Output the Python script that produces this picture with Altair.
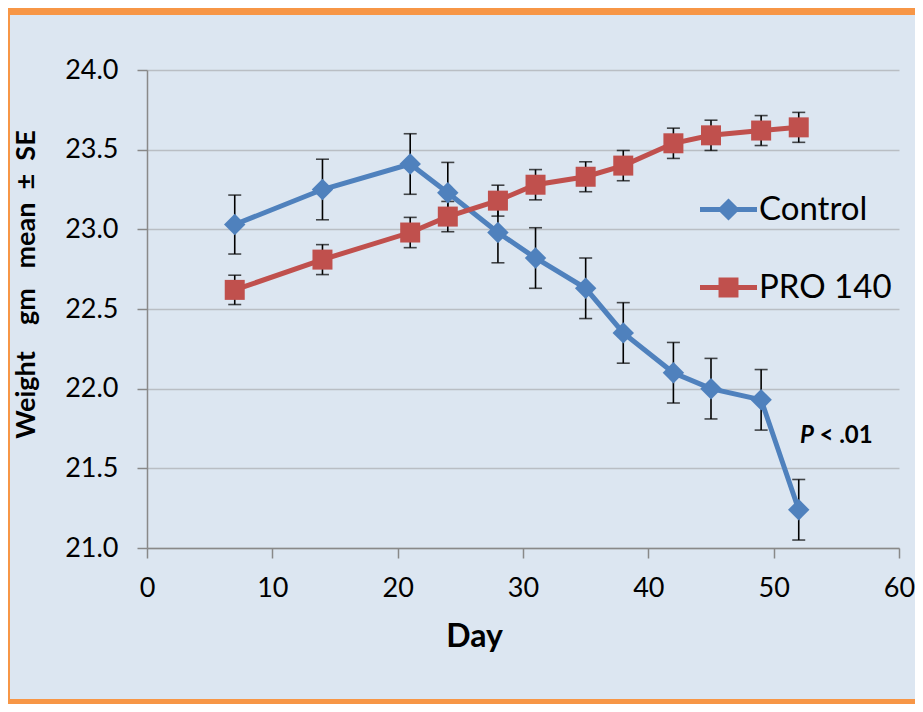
import altair as alt
import pandas as pd

# ---- data ----
days = [7, 14, 21, 24, 28, 31, 35, 38, 42, 45, 49, 52]
control_mean = [23.03, 23.25, 23.41, 23.23, 22.98, 22.82, 22.63, 22.35, 22.10, 22.00, 21.93, 21.24]
control_se = [0.185, 0.19, 0.19, 0.19, 0.19, 0.19, 0.19, 0.19, 0.19, 0.19, 0.19, 0.19]
pro_mean = [22.62, 22.81, 22.98, 23.08, 23.18, 23.28, 23.33, 23.40, 23.54, 23.59, 23.62, 23.64]
pro_se = [0.092, 0.094, 0.095, 0.095, 0.097, 0.095, 0.094, 0.095, 0.095, 0.095, 0.094, 0.094]

series_names = ["Control", "PRO 140"]
series_colors = ["#4F81BD", "#C0504D"]
x_ticks = [0, 10, 20, 30, 40, 50, 60]
y_ticks = [21.0, 21.5, 22.0, 22.5, 23.0, 23.5, 24.0]

ann_text = ["P", "< .01"]
ann_x = [52.1, 53.65]
ann_y = [21.70, 21.70]

x_title = "Day"
NB = "\u00a0"
y_title = "Weight" + NB * 4 + "gm" + NB * 3 + "mean" + NB * 2 + "±" + NB * 2 + "SE"

FONT = "Lato"
AXIS_GRAY = "#898989"
FRAME = "#F79646"

PLOT_W = 752
PLOT_H = 478
PAD_L, PAD_T, PAD_R, PAD_B = 139, 62, 16, 156

# ---- tables ----
rows = []
for name, means, ses in [(series_names[0], control_mean, control_se), (series_names[1], pro_mean, pro_se)]:
    for d, m, s in zip(days, means, ses):
        rows.append({"series": name, "day": d, "mean": m, "lo": m - s, "hi": m + s})
df = pd.DataFrame(rows)
ctrl = df[df.series == series_names[0]]
pro = df[df.series == series_names[1]]
caps = pd.concat([
    df[["series", "day", "lo"]].rename(columns={"lo": "v"}),
    df[["series", "day", "hi"]].rename(columns={"hi": "v"}),
])
ann = pd.DataFrame({"text": ann_text, "x": ann_x, "y": ann_y})
legend_df = pd.DataFrame({"series": series_names})

xs = alt.Scale(domain=[0, 60], nice=False)
ys = alt.Scale(domain=[21, 24], nice=False, zero=False)

x_axis = alt.Axis(values=x_ticks, title=x_title, grid=False, labelFont=FONT, labelFontSize=27,
                  labelColor="#000000", labelPadding=17, labelFlush=False, domainColor=AXIS_GRAY,
                  domainWidth=1.5, tickColor=AXIS_GRAY, tickWidth=1.5, tickSize=10, titleFont=FONT,
                  titleFontSize=32, titleFontWeight="bold", titleColor="#000000", titlePadding=20,
                  titleX=327, titleAlign="center")
y_axis = alt.Axis(values=y_ticks, format=".1f", title=y_title, grid=True, gridColor="#B9BEC4",
                  gridWidth=1.5, labelFont=FONT, labelFontSize=27, labelColor="#000000",
                  labelPadding=19, labelFlush=False, domainColor=AXIS_GRAY, domainWidth=1.5,
                  tickColor=AXIS_GRAY, tickWidth=1.5, tickSize=10, titleFont=FONT, titleFontSize=27,
                  titleFontWeight="bold", titleColor="#000000", titleAngle=-90,
                  titleX=-121, titleY=214, titleAlign="center", titleBaseline="middle")

# decorative orange frame bands (top, left, bottom) around the light-blue background
one = pd.DataFrame({"a": [0]})
right_edge = PLOT_W + PAD_R
bottom_edge = PLOT_H + PAD_B
frame_top = alt.Chart(one).mark_rect(color=FRAME).encode(
    x=alt.value(-PAD_L), x2=alt.value(right_edge), y=alt.value(-PAD_T), y2=alt.value(-PAD_T + 7))
frame_left = alt.Chart(one).mark_rect(color=FRAME).encode(
    x=alt.value(-PAD_L), x2=alt.value(-PAD_L + 2), y=alt.value(-PAD_T), y2=alt.value(bottom_edge))
frame_bottom = alt.Chart(one).mark_rect(color=FRAME).encode(
    x=alt.value(-PAD_L), x2=alt.value(right_edge), y=alt.value(bottom_edge - 5), y2=alt.value(bottom_edge))

base = alt.Chart(df)
axes_layer = base.mark_point(opacity=0).encode(
    x=alt.X("day:Q", scale=xs, axis=x_axis),
    y=alt.Y("mean:Q", scale=ys, axis=y_axis),
)

err_rule = base.mark_rule(color="#000000", strokeWidth=1.6).encode(
    x=alt.X("day:Q", scale=xs), y=alt.Y("lo:Q", scale=ys), y2="hi:Q"
)
err_caps = alt.Chart(caps).mark_tick(color="#000000", thickness=1.6, size=13, orient="horizontal").encode(
    x=alt.X("day:Q", scale=xs), y=alt.Y("v:Q", scale=ys)
)

def series_layers(d, color, shape, size):
    line = alt.Chart(d).mark_line(color=color, strokeWidth=5).encode(
        x=alt.X("day:Q", scale=xs), y=alt.Y("mean:Q", scale=ys)
    )
    pts = alt.Chart(d).mark_point(filled=True, opacity=1, color=color, shape=shape, size=size,
                                  strokeWidth=0).encode(
        x=alt.X("day:Q", scale=xs), y=alt.Y("mean:Q", scale=ys)
    )
    return line, pts

c_line, c_pts = series_layers(ctrl, series_colors[0], "diamond", 460)
p_line, p_pts = series_layers(pro, series_colors[1], "square", 400)

legend_paths = [
    "M-1,-0.085L1,-0.085L1,0.085L-1,0.085Z M0,-0.39L0.39,0L0,0.39L-0.39,0Z",
    "M-1,-0.085L1,-0.085L1,0.085L-1,0.085Z M-0.35,-0.35L0.35,-0.35L0.35,0.35L-0.35,0.35Z",
]
leg = dict(title=None, orient="none", legendX=553, legendY=111, labelFont=FONT, labelFontSize=33,
           labelColor="#000000", symbolSize=3249, rowPadding=32, labelOffset=2,
           symbolStrokeWidth=0, padding=0)
legend_layer = alt.Chart(legend_df).mark_point(filled=True, opacity=1, strokeWidth=0).encode(
    color=alt.Color("series:N", scale=alt.Scale(domain=series_names, range=series_colors),
                    legend=alt.Legend(**leg)),
    shape=alt.Shape("series:N", scale=alt.Scale(domain=series_names, range=legend_paths),
                    legend=alt.Legend(**leg)),
).transform_filter("false")

ann_p = alt.Chart(ann.iloc[[0]]).mark_text(font=FONT, fontSize=24, fontWeight="bold", fontStyle="italic",
                                            align="left", baseline="middle", color="#000000").encode(
    x=alt.X("x:Q", scale=xs), y=alt.Y("y:Q", scale=ys), text="text:N"
)
ann_rest = alt.Chart(ann.iloc[[1]]).mark_text(font=FONT, fontSize=24, fontWeight="bold",
                                               align="left", baseline="middle", color="#000000").encode(
    x=alt.X("x:Q", scale=xs), y=alt.Y("y:Q", scale=ys), text="text:N"
)

chart = alt.layer(
    frame_top, frame_left, frame_bottom, axes_layer, err_rule, err_caps,
    c_line, c_pts, p_line, p_pts, legend_layer, ann_p, ann_rest
).properties(
    width=PLOT_W, height=PLOT_H,
    autosize=alt.AutoSizeParams(type="none"),
    padding={"left": PAD_L, "top": PAD_T, "right": PAD_R, "bottom": PAD_B},
    background="#DCE6F1",
).configure_view(stroke=None)

chart.save("out.html", embed_options={"renderer": "svg", "actions": False})
